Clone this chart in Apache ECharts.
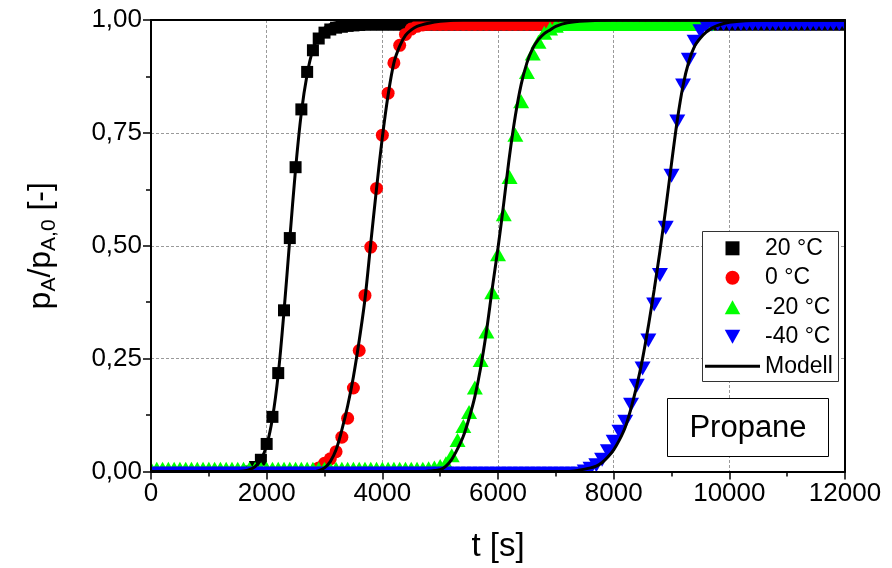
<!DOCTYPE html>
<html><head><meta charset="utf-8">
<script src="https://cdn.jsdelivr.net/npm/echarts@6/dist/echarts.min.js"></script>
<style>html,body{margin:0;padding:0;background:#fff}#c{width:892px;height:568px}</style>
</head><body><div id="c"></div>
<script>
// measurement time grid [s]
const time = [
  0,100,200,300,400,500,600,700,800,900,
  1000,1100,1200,1300,1400,1500,1600,1700,1800,1900,
  2000,2100,2200,2300,2400,2500,2600,2700,2800,2900,
  3000,3100,3200,3300,3400,3500,3600,3700,3800,3900,
  4000,4100,4200,4300,4400,4500,4600,4700,4800,4900,
  5000,5100,5200,5300,5400,5500,5600,5700,5800,5900,
  6000,6100,6200,6300,6400,6500,6600,6700,6800,6900,
  7000,7100,7200,7300,7400,7500,7600,7700,7800,7900,
  8000,8100,8200,8300,8400,8500,8600,8700,8800,8900,
  9000,9100,9200,9300,9400,9500,9600,9700,9800,9900,
  10000,10100,10200,10300,10400,10500,10600,10700,10800,10900,
  11000,11100,11200,11300,11400,11500,11600,11700,11800,11900,
  12000
];
// 20 °C
const p20 = [
  -0.008,-0.008,-0.008,-0.008,-0.008,-0.008,-0.008,-0.008,-0.008,-0.008,
  -0.008,-0.008,-0.008,-0.008,-0.008,-0.008,-0.008,0.000,0.010,0.026,
  0.061,0.121,0.218,0.357,0.517,0.674,0.802,0.885,0.933,0.959,
  0.972,0.979,0.983,0.985,0.987,0.988,0.989,0.990,0.990,0.990,
  0.990,0.990,0.990,0.990,0.990,0.990,0.990,0.990,0.990,0.990,
  0.990,0.990,0.990,0.990,0.990,0.990,0.990,0.990,0.990,0.990,
  0.990,0.990,0.990,0.990,0.990,0.990,0.990,0.990,0.990,0.990,
  0.990,0.990,0.990,0.990,0.990,0.990,0.990,0.990,0.990,0.990,
  0.990,0.990,0.990,0.990,0.990,0.990,0.990,0.990,0.990,0.990,
  0.990,0.990,0.990,0.990,0.990,0.990,0.990,0.990,0.990,0.990,
  0.990,0.990,0.990,0.990,0.990,0.990,0.990,0.990,0.990,0.990,
  0.990,0.990,0.990,0.990,0.990,0.990,0.990,0.990,0.990,0.990,
  0.990
];
// 0 °C
const p0 = [
  -0.008,-0.008,-0.008,-0.008,-0.008,-0.008,-0.008,-0.008,-0.008,-0.008,
  -0.008,-0.008,-0.008,-0.008,-0.008,-0.008,-0.008,-0.008,-0.008,-0.008,
  -0.008,-0.008,-0.008,-0.008,-0.008,-0.008,-0.008,-0.008,-0.002,0.008,
  0.018,0.028,0.044,0.076,0.118,0.185,0.268,0.390,0.497,0.627,
  0.745,0.838,0.905,0.944,0.968,0.980,0.986,0.989,0.990,0.990,
  0.990,0.990,0.990,0.990,0.990,0.990,0.990,0.990,0.990,0.990,
  0.990,0.990,0.990,0.990,0.990,0.990,0.990,0.990,0.990,0.990,
  0.990,0.990,0.990,0.990,0.990,0.990,0.990,0.990,0.990,0.990,
  0.990,0.990,0.990,0.990,0.990,0.990,0.990,0.990,0.990,0.990,
  0.990,0.990,0.990,0.990,0.990,0.990,0.990
];
// -20 °C
const pm20 = [
  0.006,0.006,0.006,0.006,0.006,0.006,0.006,0.006,0.006,0.006,
  0.006,0.006,0.006,0.006,0.006,0.006,0.006,0.006,0.006,0.006,
  0.006,0.006,0.006,0.006,0.006,0.006,0.006,0.006,0.006,0.006,
  0.006,0.006,0.006,0.006,0.006,0.006,0.006,0.006,0.006,0.006,
  0.006,0.006,0.006,0.006,0.006,0.006,0.006,0.006,0.007,0.009,
  0.012,0.018,0.036,0.070,0.101,0.132,0.186,0.247,0.310,0.397,
  0.481,0.570,0.652,0.746,0.820,0.885,0.926,0.952,0.972,0.981,
  0.987,0.991,0.991,0.991,0.991,0.991,0.991,0.991,0.991,0.991,
  0.991,0.991,0.991,0.991,0.991,0.991,0.991,0.991,0.991,0.991,
  0.991,0.991,0.991,0.991,0.991,0.991,0.991
];
// -40 °C
const pm40 = [
  -0.005,-0.005,-0.005,-0.005,-0.005,-0.005,-0.005,-0.005,-0.005,-0.005,
  -0.005,-0.005,-0.005,-0.005,-0.005,-0.005,-0.005,-0.005,-0.005,-0.005,
  -0.005,-0.005,-0.005,-0.005,-0.005,-0.005,-0.005,-0.005,-0.005,-0.005,
  -0.005,-0.005,-0.005,-0.005,-0.005,-0.005,-0.005,-0.005,-0.005,-0.005,
  -0.005,-0.005,-0.005,-0.005,-0.005,-0.005,-0.005,-0.005,-0.005,-0.005,
  -0.005,-0.005,-0.005,-0.005,-0.005,-0.005,-0.005,-0.005,-0.005,-0.005,
  -0.005,-0.005,-0.005,-0.005,-0.005,-0.005,-0.005,-0.005,-0.005,-0.005,
  -0.005,-0.005,-0.005,-0.005,-0.005,0.000,0.006,0.014,0.026,0.045,
  0.066,0.088,0.110,0.148,0.190,0.228,0.290,0.370,0.435,0.540,
  0.655,0.775,0.855,0.912,0.952,0.975,0.987,0.990,0.991,0.991,
  0.991,0.991,0.991,0.991,0.991,0.991,0.991,0.991,0.991,0.991,
  0.991,0.991,0.991,0.991,0.991,0.991,0.991,0.991,0.991,0.991,
  0.991
];
// model curves
const mT20 = [0,1500,1600,1700,1800,1900,2000,2100,2200,2300,2400,2500,2600,2700,2800,2900,3000,3100,3200,3400,3600,4000,12000];
const mV20 = [0,0,0.001,0.004,0.011,0.026,0.058,0.118,0.215,0.355,0.515,0.670,0.795,0.880,0.935,0.965,0.982,0.990,0.994,0.998,0.999,1,1];
const mT0 = [0,2800,2900,3000,3100,3200,3300,3400,3500,3600,3700,3800,3900,4000,4100,4200,4300,4400,4500,4600,4800,5000,5400,12000];
const mV0 = [0,0,0.002,0.008,0.022,0.048,0.092,0.145,0.210,0.290,0.382,0.506,0.627,0.740,0.834,0.905,0.942,0.966,0.978,0.986,0.993,0.997,1,1];
const mTm20 = [0,4700,4800,4900,5000,5100,5200,5300,5400,5500,5600,5700,5800,5900,6000,6100,6200,6300,6400,6500,6600,6700,6800,6900,7000,7200,7500,8000,12000];
const mVm20 = [0,0,0.001,0.002,0.004,0.012,0.027,0.050,0.078,0.118,0.166,0.230,0.310,0.405,0.495,0.595,0.700,0.788,0.857,0.905,0.937,0.957,0.970,0.978,0.986,0.994,0.998,1,1];
const mTm40 = [0,7200,7400,7600,7700,7800,7900,8000,8100,8200,8300,8400,8500,8600,8700,8800,8900,9000,9100,9200,9300,9400,9500,9600,9700,9800,10000,10400,11000,12000];
const mVm40 = [0,0,0.003,0.008,0.012,0.020,0.032,0.048,0.070,0.098,0.140,0.190,0.250,0.322,0.402,0.488,0.582,0.682,0.778,0.855,0.908,0.942,0.960,0.973,0.982,0.988,0.995,0.999,1,1];

const seriesNames = ['20 °C', '0 °C', '-20 °C', '-40 °C'];
const modelName = 'Modell';
const xTickLabels = ['0','2000','4000','6000','8000','10000','12000'];
const yTickLabels = ['0,00','0,25','0,50','0,75','1,00'];

const FONT = '"Liberation Sans", Arial, sans-serif';
const pairs = (t, v) => v.map((y, i) => [t[i], y]);

const dataSets = [p20, p0, pm20, pm40];
const colors = ['#000000', '#ff0000', '#00ff00', '#0000ff'];
const symbols = ['rect', 'circle', 'triangle', 'triangle'];
const sizes = [[12, 12], [13, 13], [16, 14], [16, 14]];
const rotates = [0, 0, 0, 180];
const legendIcons = ['path://M0 0H10V10H0Z', 'circle', 'path://M5 0L10 9L0 9Z', 'path://M0 0H10L5 9Z'];

const series = [];
dataSets.forEach((d, k) => {
  series.push({
    name: seriesNames[k], type: 'scatter', xAxisIndex: 0, yAxisIndex: 0,
    data: pairs(time, d), symbol: symbols[k], symbolSize: sizes[k], symbolRotate: rotates[k],
    itemStyle: { color: colors[k], opacity: 1 }, clip: false, z: 2, silent: true, animation: false
  });
});
[[mT20, mV20], [mT0, mV0], [mTm20, mVm20], [mTm40, mVm40]].forEach(([t, v]) => {
  series.push({
    name: modelName, type: 'line', xAxisIndex: 0, yAxisIndex: 0, data: pairs(t, v),
    showSymbol: false, symbol: 'none', smooth: 0.3, color: '#000',
    lineStyle: { color: '#000', width: 3 }, z: 3, clip: false, silent: true, animation: false
  });
});

const chart = echarts.init(document.getElementById('c'));
const axisCommon = { type: 'value', min: 0, max: 12000, interval: 2000 };
chart.setOption({
  animation: false,
  backgroundColor: '#fff',
  grid: { left: 151, right: 47, top: 20, bottom: 96.5, outerBoundsMode: 'none' },
  xAxis: [
    Object.assign({}, axisCommon, { position: 'bottom', z: 0,
      axisLine: { show: false }, axisTick: { show: false }, axisLabel: { show: false },
      splitLine: { show: true, lineStyle: { color: '#9a9a9a', width: 1, type: [3, 2] } } }),
    Object.assign({}, axisCommon, { position: 'bottom', z: 10,
      name: 't [s]', nameLocation: 'middle', nameGap: 59,
      nameTextStyle: { fontFamily: FONT, fontSize: 33, color: '#000' },
      axisLine: { show: true, onZero: false, lineStyle: { color: '#000', width: 2 } },
      axisTick: { show: true, inside: false, length: 8, lineStyle: { color: '#000', width: 1.5 } },
      minorTick: { show: true, splitNumber: 2, length: 5, lineStyle: { color: '#000', width: 1.5 } },
      axisLabel: { show: true, margin: 9, fontFamily: FONT, fontSize: 26, color: '#000',
        formatter: v => xTickLabels[Math.round(v / 2000)] },
      splitLine: { show: false } }),
    Object.assign({}, axisCommon, { position: 'top', z: 10,
      axisLine: { show: true, onZero: false, lineStyle: { color: '#000', width: 2 } },
      axisTick: { show: false }, axisLabel: { show: false }, splitLine: { show: false } })
  ],
  yAxis: [
    { type: 'value', min: 0, max: 1, interval: 0.25, position: 'left', z: 0,
      axisLine: { show: false }, axisTick: { show: false }, axisLabel: { show: false },
      splitLine: { show: true, lineStyle: { color: '#9a9a9a', width: 1, type: [3, 2] } } },
    { type: 'value', min: 0, max: 1, interval: 0.25, position: 'left', z: 10,
      name: '{a|p}{s|A}{a|/p}{s|A,0}{a| [-]}', nameLocation: 'middle', nameGap: 91,
      nameTextStyle: { fontFamily: FONT, fontSize: 32, color: '#000',
        rich: {
          a: { fontFamily: FONT, fontSize: 32, color: '#000', lineHeight: 38 },
          s: { fontFamily: FONT, fontSize: 21, color: '#000', lineHeight: 24, verticalAlign: 'bottom', padding: [12, 0, 0, 0] }
        } },
      axisLine: { show: true, onZero: false, lineStyle: { color: '#000', width: 2 } },
      axisTick: { show: true, inside: false, length: 8, lineStyle: { color: '#000', width: 1.5 } },
      minorTick: { show: true, splitNumber: 2, length: 5, lineStyle: { color: '#000', width: 1.5 } },
      axisLabel: { show: true, margin: 9, fontFamily: FONT, fontSize: 26, color: '#000',
        formatter: v => yTickLabels[Math.round(v / 0.25)] },
      splitLine: { show: false } },
    { type: 'value', min: 0, max: 1, interval: 0.25, position: 'right', z: 10,
      axisLine: { show: true, onZero: false, lineStyle: { color: '#000', width: 2 } },
      axisTick: { show: false }, axisLabel: { show: false }, splitLine: { show: false } }
  ],
  legend: {
    orient: 'vertical', left: 705, top: 236.3, padding: 0, z: 12,
    itemWidth: 55, itemHeight: 14, itemGap: 5.5, symbolKeepAspect: true,
    textStyle: { fontFamily: FONT, fontSize: 23, color: '#000', lineHeight: 24 },
    selectedMode: false,
    data: [
      { name: seriesNames[0], icon: legendIcons[0] },
      { name: seriesNames[1], icon: legendIcons[1] },
      { name: seriesNames[2], icon: legendIcons[2] },
      { name: seriesNames[3], icon: legendIcons[3] },
      { name: modelName, icon: 'path://M0 0H55V3H0Z' }
    ]
  },
  graphic: [
    // white masks outside the plotting area (marker clipping)
    { type: 'rect', z: 5, silent: true, shape: { x: 100, y: 0, width: 792, height: 19.5 }, style: { fill: '#fff' } },
    { type: 'rect', z: 5, silent: true, shape: { x: 100, y: 472.5, width: 792, height: 12 }, style: { fill: '#fff' } },
    { type: 'rect', z: 5, silent: true, shape: { x: 128, y: 0, width: 22.5, height: 485 }, style: { fill: '#fff' } },
    { type: 'rect', z: 5, silent: true, shape: { x: 845.5, y: 0, width: 46.5, height: 485 }, style: { fill: '#fff' } },
    // legend frame
    { type: 'rect', z: 11, silent: true, shape: { x: 702.5, y: 231.5, width: 136, height: 150 },
      style: { fill: '#fff', stroke: '#333', lineWidth: 1 } },
    // annotation box
    { type: 'rect', z: 6, silent: true, shape: { x: 667.5, y: 398.5, width: 161, height: 58 },
      style: { fill: '#fff', stroke: '#000', lineWidth: 1 } },
    { type: 'text', z: 7, silent: true, x: 748, y: 428,
      style: { text: 'Propane', font: '31px ' + FONT, fill: '#000', textAlign: 'center', textVerticalAlign: 'middle' } }
  ],
  series: series
});
</script></body></html>
